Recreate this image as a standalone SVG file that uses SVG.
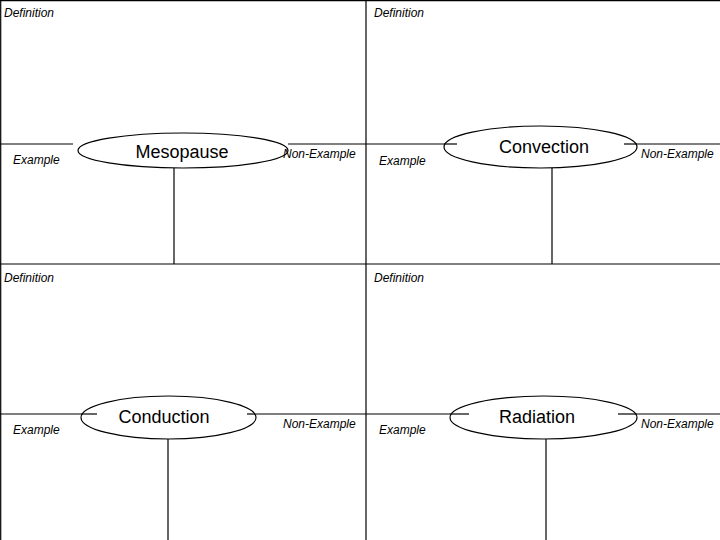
<svg xmlns="http://www.w3.org/2000/svg" width="720" height="540" viewBox="0 0 720 540">
<style>
.ln{stroke:#000;stroke-width:1.2;fill:none}
.el{stroke:#000;stroke-width:1.2;fill:#fff}
.lbl{font-family:"Liberation Sans",Arial,sans-serif;font-size:12px;font-style:italic;fill:#000}
.ttl{font-family:"Liberation Sans",Arial,sans-serif;font-size:18px;fill:#000;text-anchor:middle}
</style>
<rect width="720" height="540" fill="#fff"/>
<g id="connectors">
<line class="ln" x1="0" y1="0.7" x2="720" y2="0.7"/>
<line class="ln" x1="0.7" y1="0" x2="0.7" y2="540"/>
<line class="ln" x1="366" y1="0" x2="366" y2="540"/>
<line class="ln" x1="0" y1="264" x2="720" y2="264"/>
<line class="ln" x1="0" y1="144" x2="73" y2="144"/>
<line class="ln" x1="288" y1="144" x2="366" y2="144"/>
<line class="ln" x1="174" y1="168" x2="174" y2="264"/>
<line class="ln" x1="366" y1="144" x2="444" y2="144"/>
<line class="ln" x1="637" y1="144" x2="720" y2="144"/>
<line class="ln" x1="552" y1="168" x2="552" y2="264"/>
<line class="ln" x1="0" y1="414" x2="81" y2="414"/>
<line class="ln" x1="256" y1="414" x2="366" y2="414"/>
<line class="ln" x1="168" y1="439" x2="168" y2="540"/>
<line class="ln" x1="366" y1="414" x2="450" y2="414"/>
<line class="ln" x1="637" y1="414" x2="720" y2="414"/>
<line class="ln" x1="546" y1="439" x2="546" y2="540"/>
</g>
<g id="mesopause">
<ellipse class="el" cx="183" cy="150.5" rx="105" ry="17.5"/>
<text class="ttl" x="182" y="158">Mesopause</text>
<text class="lbl" x="4" y="17">Definition</text>
<text class="lbl" x="13" y="164">Example</text>
<text class="lbl" x="283" y="158">Non-Example</text>
</g>
<g id="convection">
<ellipse class="el" cx="540.5" cy="147" rx="96.5" ry="21"/>
<line class="ln" x1="444" y1="144" x2="457" y2="144"/>
<line class="ln" x1="624" y1="144" x2="637" y2="144"/>
<text class="ttl" x="544" y="153">Convection</text>
<text class="lbl" x="374" y="17">Definition</text>
<text class="lbl" x="379" y="165">Example</text>
<text class="lbl" x="641" y="158">Non-Example</text>
</g>
<g id="conduction">
<ellipse class="el" cx="168.5" cy="417.5" rx="87.5" ry="21.5"/>
<line class="ln" x1="81" y1="414" x2="97" y2="414"/>
<line class="ln" x1="247" y1="414" x2="256" y2="414"/>
<text class="ttl" x="164" y="423">Conduction</text>
<text class="lbl" x="4" y="282">Definition</text>
<text class="lbl" x="13" y="434">Example</text>
<text class="lbl" x="283" y="428">Non-Example</text>
</g>
<g id="radiation">
<ellipse class="el" cx="543.5" cy="417.5" rx="93.5" ry="21.5"/>
<line class="ln" x1="450" y1="414" x2="469" y2="414"/>
<line class="ln" x1="618" y1="414" x2="637" y2="414"/>
<text class="ttl" x="537" y="423">Radiation</text>
<text class="lbl" x="374" y="282">Definition</text>
<text class="lbl" x="379" y="434">Example</text>
<text class="lbl" x="641" y="428">Non-Example</text>
</g>
</svg>
